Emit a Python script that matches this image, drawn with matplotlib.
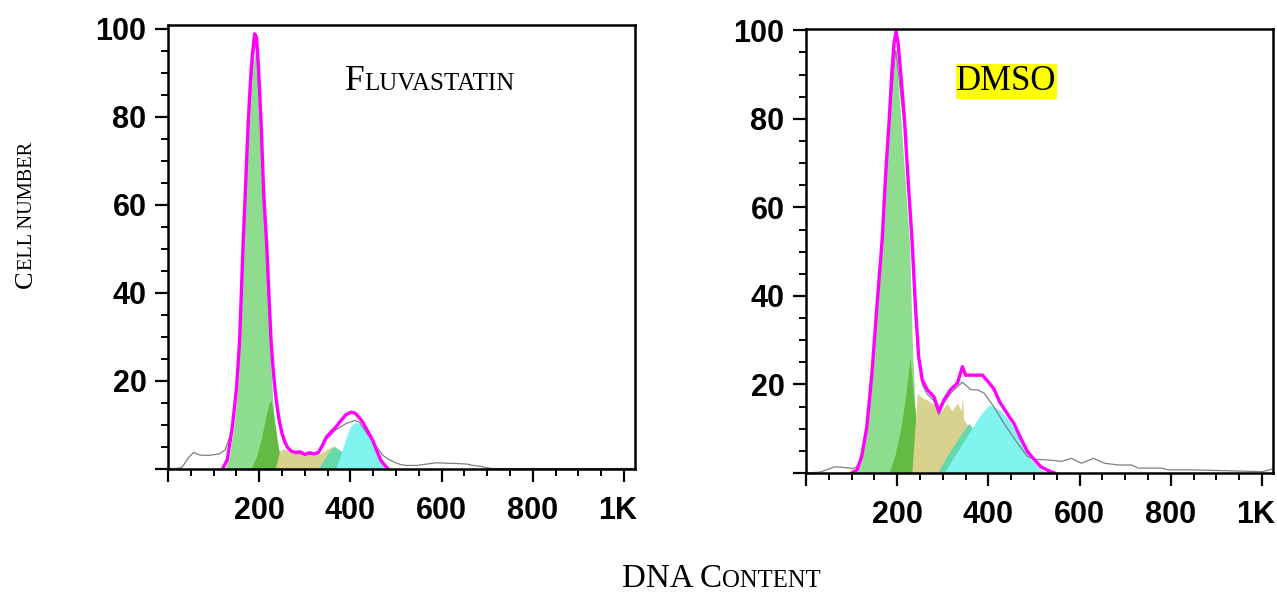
import matplotlib
matplotlib.use("Agg")
import matplotlib.pyplot as plt
import matplotlib.transforms as mtransforms
from matplotlib.ticker import MultipleLocator, FixedLocator, FixedFormatter

# ---------------- data ----------------
xticks = [0, 200, 400, 600, 800, 1000]
xticklabels = ["", "200", "400", "600", "800", "1K"]
yticks = [0, 20, 40, 60, 80, 100]
yticklabels = ["", "20", "40", "60", "80", "100"]

# Fluvastatin panel
flu_fit_x = [120, 130, 141, 150, 157, 165, 170, 176, 182, 186, 190, 194, 198, 204, 210, 216, 222, 226, 231,
             235, 240, 244, 250, 255, 262, 270, 280, 290, 300, 310, 320, 330, 340, 347, 355, 368, 380, 390,
             401, 410, 420, 427, 438, 449, 458, 467, 475, 482]
flu_fit_y = [0, 2, 9.4, 18, 29, 51.8, 64, 79, 90, 95, 98.8, 98, 92, 79, 62, 51.8, 38, 29, 22,
             17.7, 13.5, 10.9, 8, 6.4, 4.8, 4, 3.6, 3.8, 3.2, 3.6, 3.3, 3.7, 5.5, 7.1, 8, 9.4, 11, 12.2,
             12.8, 12.6, 11.5, 10.5, 8.5, 6.4, 4, 1.8, 0.8, 0]
flu_raw_x = [0, 20, 31, 45, 57, 65, 75, 90, 112, 125, 130, 138, 145, 155, 165, 176, 186, 190, 194, 198,
             204, 216, 226, 235, 244, 255, 270, 290, 310, 330, 347, 368, 390, 409, 420, 442, 458, 471,
             485, 497, 510, 522, 545, 574, 588, 610, 640, 655, 669, 685, 698, 710, 800, 1024]
flu_raw_y = [0, 0, 0.3, 2.5, 3.7, 3.2, 3, 3, 3.3, 4.2, 5.6, 7.9, 12, 22, 48, 76, 92, 96.5, 95.5, 89,
             76, 49, 27, 16.5, 10, 5.8, 3.8, 3.3, 3.1, 3.3, 6.6, 8.8, 10.2, 10.9, 10.5, 7.1, 4.8, 3,
             2, 1.4, 0.9, 0.7, 0.7, 1.1, 1.3, 1.2, 1.1, 1.0, 0.7, 0.5, 0.2, 0, 0, 0]
flu_g1_x = [125, 135, 145, 155, 165, 176, 186, 191, 196, 204, 216, 226, 232, 240, 250, 260]
flu_g1_y = [0, 3, 10, 21, 47, 75, 91, 95, 91, 75, 48, 22, 12, 5, 1, 0]
flu_ap_x = [182, 195, 205, 215, 222, 226, 232, 240, 251]
flu_ap_y = [0, 3, 7, 12, 15, 15.5, 12, 6, 0]
flu_s_x = [235, 245, 255, 270, 290, 310, 330, 350, 365, 370, 380]
flu_s_y = [0, 4, 4.5, 3.8, 3.3, 3.0, 3.2, 4.5, 5.2, 3, 0]
flu_t_x = [330, 345, 358, 365, 385, 405, 425, 440]
flu_t_y = [0, 2.5, 4.5, 5, 3.6, 2, 0.7, 0]
flu_g2_x = [368, 380, 392, 400, 409, 418, 427, 438, 449, 458, 467, 478]
flu_g2_y = [0, 3.5, 7.5, 9.5, 10.5, 10.3, 9.8, 8, 6, 3.8, 1.5, 0]

# DMSO panel
dm_fit_x = [100, 112, 122, 133.5, 144.5, 155.5, 167, 175, 182.5, 188, 193, 197.5, 202, 208, 216, 224,
            232.5, 240, 247, 255, 266, 280.5, 291.5, 302.5, 317, 332, 343, 350, 368.5, 387, 398, 412,
            425, 442, 457, 470, 486, 501, 515, 530, 545]
dm_fit_y = [0, 0.7, 3.7, 10.5, 22.5, 37.6, 52.7, 68, 79.8, 90, 97, 99.7, 97, 90, 79.8, 66,
            52.7, 37.6, 26.3, 21, 18.8, 17.2, 13.9, 16.5, 18.8, 20.3, 24, 22.1, 22.1, 22.1, 20.8, 19,
            16, 13.3, 11, 8, 4.8, 3, 1.4, 0.6, 0]
dm_raw_x = [0, 30, 45, 63, 80, 104, 112, 122, 133, 144, 155, 167, 182, 190, 197, 204, 216, 232, 240,
            247, 255, 266, 280, 291, 302, 317, 332, 343, 354, 362, 376, 391, 406, 412, 434, 464, 486,
            501, 520, 538, 560, 582, 604, 630, 655, 685, 714, 729, 780, 795, 853, 1000, 1020, 1024]
dm_raw_y = [0, 0.2, 0.7, 1.4, 1.3, 1.0, 1.5, 3, 9.5, 21, 36, 51, 78, 88, 95.5, 89, 78, 51, 36,
            25.5, 20, 17.8, 16.4, 13.2, 15.8, 18, 19.5, 20.5, 19.5, 18.8, 18.8, 18, 15.8, 15, 11.2, 6.7,
            3.7, 3.1, 3, 2.9, 2.6, 3.3, 2.2, 3.3, 2.2, 1.8, 1.8, 1.1, 1.1, 0.7, 0.7, 0.3, 0.8, 1.1]
dm_g1_x = [112, 122, 133, 144, 155, 167, 182, 190, 197, 208, 216, 227, 233, 240, 250, 260]
dm_g1_y = [0, 3, 9.5, 21, 36, 51, 77, 88, 94, 80, 68, 52, 30, 12, 3, 0]
dm_ap_x = [182, 195, 208, 218, 228, 238, 250, 265]
dm_ap_y = [0, 4, 10, 17, 26, 15, 5, 0]
dm_s_x = [232, 244, 255, 266, 280, 291, 300, 310, 320, 332, 340, 343, 346, 360, 375, 390]
dm_s_y = [0, 18, 17, 16.5, 15.5, 13.5, 14.5, 15.8, 14, 15.8, 14, 16.9, 12, 10, 5, 0]
dm_t_x = [288, 310, 335, 357, 375, 400, 420, 442]
dm_t_y = [0, 4, 8, 11.2, 9, 5.5, 2.5, 0]
dm_g2_x = [302, 330, 360, 385, 402, 412, 425, 442, 457, 470, 486, 501, 515, 528]
dm_g2_y = [0, 4.5, 9.5, 13.5, 15.4, 15, 14.2, 12.3, 10, 7.2, 4.2, 2.2, 0.8, 0]

# ---------------- figure ----------------
W, H = 1277, 592
fig = plt.figure(figsize=(W / 100, H / 100), dpi=100)
fig.patch.set_facecolor("white")

C_G1 = "#8edc8e"
C_AP = "#64ba42"
C_S = "#d8d28e"
C_T = "#66d9ac"
C_G2 = "#80f4ef"
C_FIT = "#ff00ff"
C_RAW = "#808080"


def panel(rect, ylim_top, g1, ap, s, t, g2, raw, fit):
    ax = fig.add_axes(rect)
    for (xs, ys, c) in [(g1[0], g1[1], C_G1), (ap[0], ap[1], C_AP), (s[0], s[1], C_S),
                        (t[0], t[1], C_T), (g2[0], g2[1], C_G2)]:
        ax.fill_between(xs, 0, ys, color=c, linewidth=0)
    ax.plot(raw[0], raw[1], color=C_RAW, lw=0.9)
    ax.plot(fit[0], fit[1], color=C_FIT, lw=2.4, solid_joinstyle="round")
    ax.set_xlim(0, 1024)
    ax.set_ylim(0, ylim_top)
    ax.xaxis.set_major_locator(FixedLocator(xticks))
    ax.xaxis.set_major_formatter(FixedFormatter(xticklabels))
    ax.yaxis.set_major_locator(FixedLocator(yticks))
    ax.yaxis.set_major_formatter(FixedFormatter(yticklabels))
    ax.xaxis.set_minor_locator(MultipleLocator(50))
    ax.yaxis.set_minor_locator(MultipleLocator(5))
    ax.tick_params(which="major", direction="out", length=9.5, width=1.6, color="black")
    ax.tick_params(which="minor", direction="out", length=5, width=1.4, color="black")
    ax.tick_params(axis="x", which="major", pad=10)
    ax.tick_params(axis="y", which="major", pad=6)
    for lab in ax.get_xticklabels() + ax.get_yticklabels():
        lab.set_fontfamily("Liberation Sans")
        lab.set_fontweight("bold")
        lab.set_fontsize(22)
    # the "1K" label sits slightly left of its tick in the reference
    last = ax.get_xticklabels()[-1]
    last.set_transform(last.get_transform() +
                       mtransforms.ScaledTranslation(-6 / 100, 0, fig.dpi_scale_trans))
    for sp in ax.spines.values():
        sp.set_linewidth(1.8)
        sp.set_color("black")
    return ax


ax1 = panel([168 / W, 1 - 468.5 / H, 467 / W, 443.5 / H], 100.8,
            (flu_g1_x, flu_g1_y), (flu_ap_x, flu_ap_y), (flu_s_x, flu_s_y),
            (flu_t_x, flu_t_y), (flu_g2_x, flu_g2_y), (flu_raw_x, flu_raw_y), (flu_fit_x, flu_fit_y))
ax2 = panel([806 / W, 1 - 473 / H, 467 / W, 444 / H], 100.3,
            (dm_g1_x, dm_g1_y), (dm_ap_x, dm_ap_y), (dm_s_x, dm_s_y),
            (dm_t_x, dm_t_y), (dm_g2_x, dm_g2_y), (dm_raw_x, dm_raw_y), (dm_fit_x, dm_fit_y))

# ---------------- small-caps text helpers (pixel placement) ----------------
SERIF = "Liberation Serif"
renderer = fig.canvas.get_renderer()
ident = mtransforms.IdentityTransform()


def measure(s, size):
    t = fig.text(0, 0, s, fontsize=size, family=SERIF, transform=ident)
    w = t.get_window_extent(renderer).width
    t.remove()
    return w


def smallcaps_h(cx, base_y_px, pieces):
    widths = [measure(s, sz) for s, sz in pieces]
    x = cx - sum(widths) / 2
    y = H - base_y_px
    for (s, sz), w in zip(pieces, widths):
        fig.text(x, y, s, fontsize=sz, family=SERIF, transform=ident,
                 ha="left", va="baseline")
        x += w


def smallcaps_v(base_x_px, cy_px, pieces):
    widths = [measure(s, sz) for s, sz in pieces]
    y = (H - cy_px) - sum(widths) / 2
    for (s, sz), w in zip(pieces, widths):
        fig.text(base_x_px, y, s, fontsize=sz, family=SERIF, transform=ident,
                 rotation=90, rotation_mode="anchor", ha="left", va="baseline")
        y += w


smallcaps_h(429.5, 90, [("F", 25.5), ("LUVASTATIN", 18)])
smallcaps_h(721, 587, [("DNA C", 23.8), ("ONTENT", 17.8)])
smallcaps_v(32, 215, [("C", 19), ("ELL NUMBER", 14.7)])

fig.text(1006.5, H - 90, "DMSO", fontsize=25, family=SERIF, transform=ident,
         ha="center", va="baseline",
         bbox=dict(facecolor="#ffff00", edgecolor="none", boxstyle="square,pad=0.02"))

fig.savefig("out.png", dpi=100, facecolor="white")
